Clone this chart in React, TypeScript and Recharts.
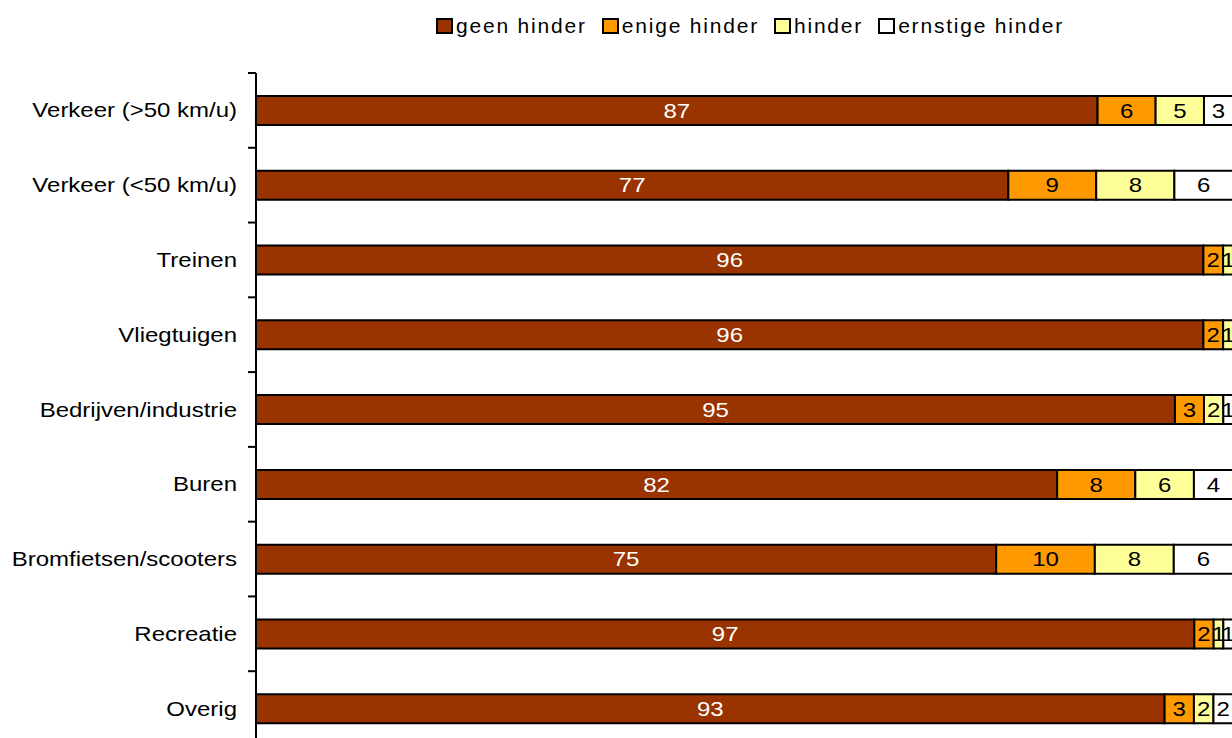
import React from 'react';
import { BarChart, Bar, XAxis, YAxis, LabelList } from 'recharts';

const categories = [
  'Verkeer (>50 km/u)',
  'Verkeer (<50 km/u)',
  'Treinen',
  'Vliegtuigen',
  'Bedrijven/industrie',
  'Buren',
  'Bromfietsen/scooters',
  'Recreatie',
  'Overig',
];
const geenHinder = [87, 77, 96, 96, 95, 82, 75, 97, 93];
const enigeHinder = [6, 9, 2, 2, 3, 8, 10, 2, 3];
const hinder = [5, 8, 1, 1, 2, 6, 8, 1, 2];
const ernstigeHinder = [3, 6, 0, 0, 1, 4, 6, 1, 2];

const series = [
  { key: 'geen', name: 'geen hinder', color: '#993300', text: '#ffffff' },
  { key: 'enige', name: 'enige hinder', color: '#FF9900', text: '#000000' },
  { key: 'hinder', name: 'hinder', color: '#FFFF99', text: '#000000' },
  { key: 'ernstig', name: 'ernstige hinder', color: '#FFFFFF', text: '#000000' },
];

const data = categories.map((c, i) => ({
  name: c,
  geen: geenHinder[i],
  enige: enigeHinder[i],
  hinder: hinder[i],
  ernstig: ernstigeHinder[i],
}));

const FONT = '"Liberation Sans", Arial, sans-serif';
const HALF_BAND = 37.4;

const CategoryTick = (props: any) => {
  const { x, y, payload } = props;
  return (
    <g>
      <line x1={x - 8} x2={x} y1={y - HALF_BAND} y2={y - HALF_BAND} stroke="#000" strokeWidth={2} />
      <text
        transform={`translate(${x - 19}, ${y}) scale(1.2, 1)`}
        textAnchor="end"
        dy="0.35em"
        fontSize={20}
        fontFamily={FONT}
        fill="#000"
      >
        {payload.value}
      </text>
    </g>
  );
};

const makeLabel = (color: string) => (props: any) => {
  const { x, y, width, height, value } = props;
  if (!value) return null;
  return (
    <text
      transform={`translate(${x + width / 2}, ${y + height / 2}) scale(1.2, 1)`}
      textAnchor="middle"
      dy="0.36em"
      fontSize={20}
      fontFamily={FONT}
      fill={color}
    >
      {value}
    </text>
  );
};

const App: React.FC = () => {
  return (
    <div style={{ position: 'absolute', left: 0, top: 0, width: 1232, height: 738, overflow: 'hidden', background: '#fff' }}>
      <div
        style={{
          position: 'absolute',
          left: 436,
          top: 14,
          display: 'flex',
          alignItems: 'center',
          fontFamily: FONT,
          fontSize: 21,
          letterSpacing: 1.8,
          color: '#000',
          whiteSpace: 'nowrap',
        }}
      >
        {series.map(s => (
          <div key={s.key} style={{ display: 'flex', alignItems: 'center', marginRight: 15 }}>
            <span
              style={{
                display: 'inline-block',
                width: 13,
                height: 12,
                background: s.color,
                border: '2px solid #000',
                marginRight: 3,
              }}
            />
            <span>{s.name}</span>
          </div>
        ))}
      </div>
      <div style={{ position: 'absolute', left: 0, top: 0 }}>
        <BarChart
          width={1233}
          height={746}
          data={data}
          layout="vertical"
          stackOffset="expand"
          barCategoryGap={0}
          margin={{ top: 73, right: 0, bottom: 0, left: 0 }}
        >
          <XAxis type="number" hide domain={[0, 1]} />
          <YAxis
            type="category"
            dataKey="name"
            width={256}
            tickSize={0}
            tickMargin={0}
            axisLine={{ stroke: '#000', strokeWidth: 2 }}
            tickLine={false}
            tick={<CategoryTick />}
            interval={0}
          />
          {series.map(s => (
            <Bar
              key={s.key}
              dataKey={s.key}
              name={s.name}
              stackId="a"
              fill={s.color}
              stroke="#000"
              strokeWidth={2}
              barSize={29}
              isAnimationActive={false}
            >
              <LabelList dataKey={s.key} content={makeLabel(s.text)} />
            </Bar>
          ))}
        </BarChart>
      </div>
    </div>
  );
};

export default App;
